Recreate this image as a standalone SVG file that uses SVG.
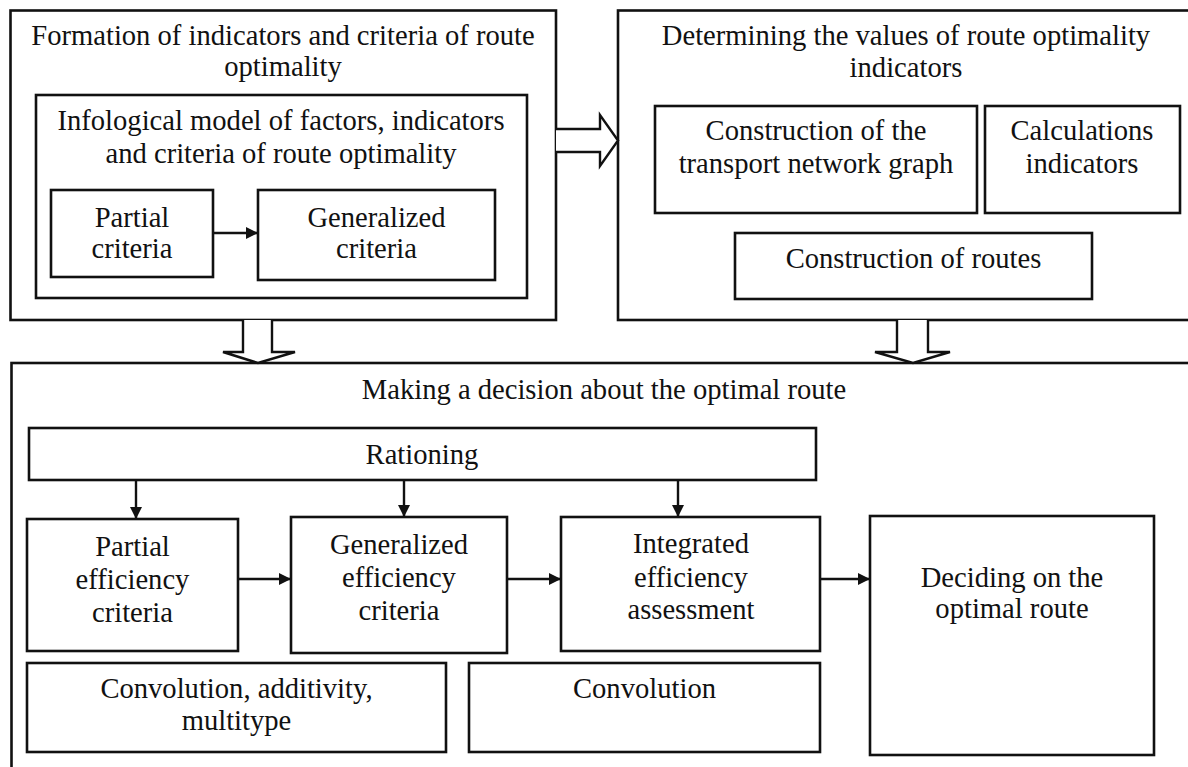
<svg xmlns="http://www.w3.org/2000/svg" width="1188" height="767" viewBox="0 0 1188 767">
  <style>
    .box { fill: #ffffff; stroke: #111111; stroke-width: 2.6; }
    .hollow { fill: #ffffff; stroke: #111111; stroke-width: 2.4; stroke-linejoin: miter; }
    .link { fill: none; stroke: #111111; stroke-width: 2.4; }
    text { font-family: "Liberation Serif", "Times New Roman", serif; font-size: 28.6px; fill: #111111; text-anchor: middle; }
  </style>
  <defs>
    <marker id="arrow" viewBox="0 0 12 12" refX="12" refY="6" markerWidth="12" markerHeight="12" markerUnits="userSpaceOnUse" orient="auto">
      <path d="M0 0 L12 6 L0 12 Z" fill="#111111"/>
    </marker>
  </defs>
  <rect width="1188" height="767" fill="#ffffff"/>

  <!-- Stage 1: formation of indicators and criteria -->
  <g id="formation">
    <rect class="box" x="10.5" y="10.5" width="545.5" height="309.5"/>
    <text x="283" y="45">Formation of indicators and criteria of route</text>
    <text x="283" y="76">optimality</text>
  </g>
  <g id="infological">
    <rect class="box" x="36" y="95" width="491" height="203"/>
    <text x="281" y="130">Infological model of factors, indicators</text>
    <text x="281" y="163">and criteria of route optimality</text>
  </g>
  <g id="partial-criteria">
    <rect class="box" x="51" y="190" width="162" height="87"/>
    <text x="132" y="227">Partial</text>
    <text x="132" y="258">criteria</text>
  </g>
  <g id="generalized-criteria">
    <rect class="box" x="258" y="190" width="237" height="90"/>
    <text x="376.5" y="227">Generalized</text>
    <text x="376.5" y="258">criteria</text>
  </g>

  <!-- Stage 2: determining indicator values -->
  <g id="determining">
    <rect class="box" x="618" y="10.5" width="600" height="309.5"/>
    <text x="906" y="45">Determining the values of route optimality</text>
    <text x="906" y="77">indicators</text>
  </g>
  <g id="network-graph">
    <rect class="box" x="655" y="106" width="322" height="107"/>
    <text x="816" y="140">Construction of the</text>
    <text x="816" y="173">transport network graph</text>
  </g>
  <g id="calculations">
    <rect class="box" x="985" y="106" width="195" height="107"/>
    <text x="1082" y="140">Calculations</text>
    <text x="1082" y="173">indicators</text>
  </g>
  <g id="routes">
    <rect class="box" x="735" y="233" width="357" height="66"/>
    <text x="913.5" y="268">Construction of routes</text>
  </g>

  <!-- Stage 3: decision about the optimal route -->
  <g id="decision">
    <rect class="box" x="11.5" y="363" width="1200" height="450"/>
    <text x="604" y="399">Making a decision about the optimal route</text>
  </g>
  <g id="rationing">
    <rect class="box" x="29" y="428" width="787" height="52"/>
    <text x="422" y="464">Rationing</text>
  </g>
  <g id="partial-efficiency">
    <rect class="box" x="27" y="519" width="211" height="132"/>
    <text x="132.5" y="556">Partial</text>
    <text x="132.5" y="589">efficiency</text>
    <text x="132.5" y="622">criteria</text>
  </g>
  <g id="generalized-efficiency">
    <rect class="box" x="291" y="517" width="216" height="136"/>
    <text x="399" y="554">Generalized</text>
    <text x="399" y="587">efficiency</text>
    <text x="399" y="620">criteria</text>
  </g>
  <g id="integrated-assessment">
    <rect class="box" x="561" y="517" width="259" height="134"/>
    <text x="691" y="553">Integrated</text>
    <text x="691" y="587">efficiency</text>
    <text x="691" y="619">assessment</text>
  </g>
  <g id="optimal-route">
    <rect class="box" x="870" y="516" width="284" height="239"/>
    <text x="1012" y="587">Deciding on the</text>
    <text x="1012" y="618">optimal route</text>
  </g>
  <g id="convolution-additivity">
    <rect class="box" x="27" y="663" width="419" height="89"/>
    <text x="236.5" y="698">Convolution, additivity,</text>
    <text x="236.5" y="730">multitype</text>
  </g>
  <g id="convolution">
    <rect class="box" x="469" y="663" width="351" height="89"/>
    <text x="644.5" y="698">Convolution</text>
  </g>

  <!-- Connectors -->
  <g id="connectors">
    <!-- block arrows between stages -->
    <path class="hollow" d="M556 129 H600 V115 L618 140.5 L600 166 V152 H556"/>
    <path class="hollow" d="M243 320 V352 H223 L258 363 L295 352 H272 V320"/>
    <path class="hollow" d="M897 320 V352 H875 L913 363 L950 352 H928 V320"/>
    <!-- flow arrows -->
    <line class="link" x1="213" y1="233" x2="258" y2="233" marker-end="url(#arrow)"/>
    <line class="link" x1="136" y1="480" x2="136" y2="519" marker-end="url(#arrow)"/>
    <line class="link" x1="404" y1="480" x2="404" y2="517" marker-end="url(#arrow)"/>
    <line class="link" x1="678" y1="480" x2="678" y2="517" marker-end="url(#arrow)"/>
    <line class="link" x1="238" y1="579" x2="291" y2="579" marker-end="url(#arrow)"/>
    <line class="link" x1="507" y1="579" x2="561" y2="579" marker-end="url(#arrow)"/>
    <line class="link" x1="820" y1="579" x2="870" y2="579" marker-end="url(#arrow)"/>
  </g>
</svg>
